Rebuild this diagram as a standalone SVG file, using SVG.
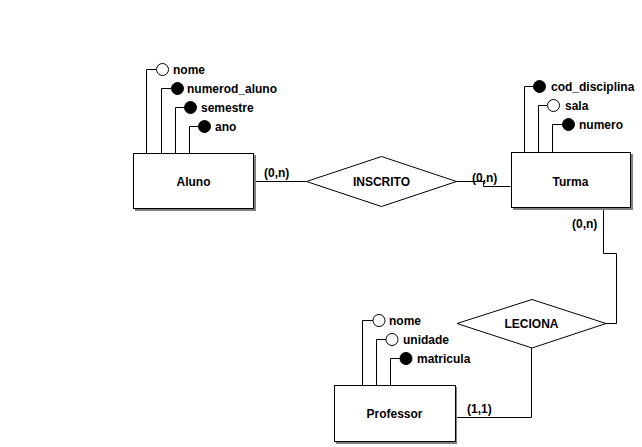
<svg xmlns="http://www.w3.org/2000/svg" width="642" height="447" viewBox="0 0 642 447">
<style>
text{font-family:"Liberation Sans",Arial,sans-serif;font-weight:bold;font-size:12px;fill:#000}
.ent{fill:#fff;stroke:#000;stroke-width:1}
.sh{fill:#808080}
.rel{fill:#fff;stroke:#000;stroke-width:1}
.ln{fill:none;stroke:#000;stroke-width:1}
.key{fill:#000;stroke:#000}
.att{fill:#fff;stroke:#000}
.c{text-anchor:middle}
</style>
<rect width="642" height="447" fill="#fff"/>
<g id="connectors">
<polyline class="ln" points="253.5,181.5 306.5,181.5"/>
<polyline class="ln" points="456.5,181.5 483.5,181.5 483.5,186.5 510.5,186.5"/>
<polyline class="ln" points="603.5,208 603.5,253.5 616.5,253.5 616.5,323.5 606,323.5"/>
<polyline class="ln" points="531.5,348 531.5,417.5 456,417.5"/>
<text x="264" y="177">(0,n)</text>
<text x="472" y="182">(0,n)</text>
<text x="572" y="228">(0,n)</text>
<text x="467" y="413">(1,1)</text>
</g>
<g id="aluno">
<polyline class="ln" points="146.5,153 146.5,69.5 156,69.5"/>
<polyline class="ln" points="161.5,153 161.5,88.5 171,88.5"/>
<polyline class="ln" points="175.5,153 175.5,107.5 184,107.5"/>
<polyline class="ln" points="189.5,153 189.5,126.5 198,126.5"/>
<circle class="att" cx="162.5" cy="69.5" r="6"/>
<circle class="key" cx="177.5" cy="88.5" r="6"/>
<circle class="key" cx="190.5" cy="107.5" r="6"/>
<circle class="key" cx="204.5" cy="126.5" r="6"/>
<text x="173" y="74">nome</text>
<text x="187" y="93">numerod_aluno</text>
<text x="201" y="112">semestre</text>
<text x="215" y="131">ano</text>
<rect class="sh" x="135" y="155" width="121" height="56"/>
<rect class="ent" x="133.5" y="153.5" width="120" height="55"/>
<text class="c" x="193.5" y="186">Aluno</text>
</g>
<g id="inscrito">
<polygon class="rel" points="306.5,181.5 381.5,156.5 456.5,181.5 381.5,206.5"/>
<text class="c" x="381.5" y="186">INSCRITO</text>
</g>
<g id="turma">
<polyline class="ln" points="524.5,152 524.5,86.5 533,86.5"/>
<polyline class="ln" points="538.5,152 538.5,105.5 547,105.5"/>
<polyline class="ln" points="552.5,152 552.5,124.5 562,124.5"/>
<circle class="key" cx="539.5" cy="86.5" r="6"/>
<circle class="att" cx="553.5" cy="105.5" r="6"/>
<circle class="key" cx="568.5" cy="124.5" r="6"/>
<text x="551" y="91">cod_disciplina</text>
<text x="565" y="110">sala</text>
<text x="579" y="129">numero</text>
<rect class="sh" x="513" y="154" width="120" height="56"/>
<rect class="ent" x="511.5" y="152.5" width="119" height="55"/>
<text class="c" x="570.5" y="186">Turma</text>
</g>
<g id="leciona">
<polygon class="rel" points="457,323.5 532,299.5 606,323.5 532,348"/>
<text class="c" x="531.5" y="328">LECIONA</text>
</g>
<g id="professor">
<polyline class="ln" points="362.5,385 362.5,320.5 373,320.5"/>
<polyline class="ln" points="376.5,385 376.5,339.5 386,339.5"/>
<polyline class="ln" points="390.5,385 390.5,358.5 400,358.5"/>
<circle class="att" cx="379" cy="320.5" r="6"/>
<circle class="att" cx="392" cy="339.5" r="6"/>
<circle class="key" cx="406" cy="358.5" r="6"/>
<text x="389" y="325">nome</text>
<text x="403" y="344">unidade</text>
<text x="417" y="363">matricula</text>
<rect class="sh" x="336" y="387" width="121" height="57"/>
<rect class="ent" x="334.5" y="385.5" width="121" height="56"/>
<text class="c" x="394.5" y="418">Professor</text>
</g>
</svg>
